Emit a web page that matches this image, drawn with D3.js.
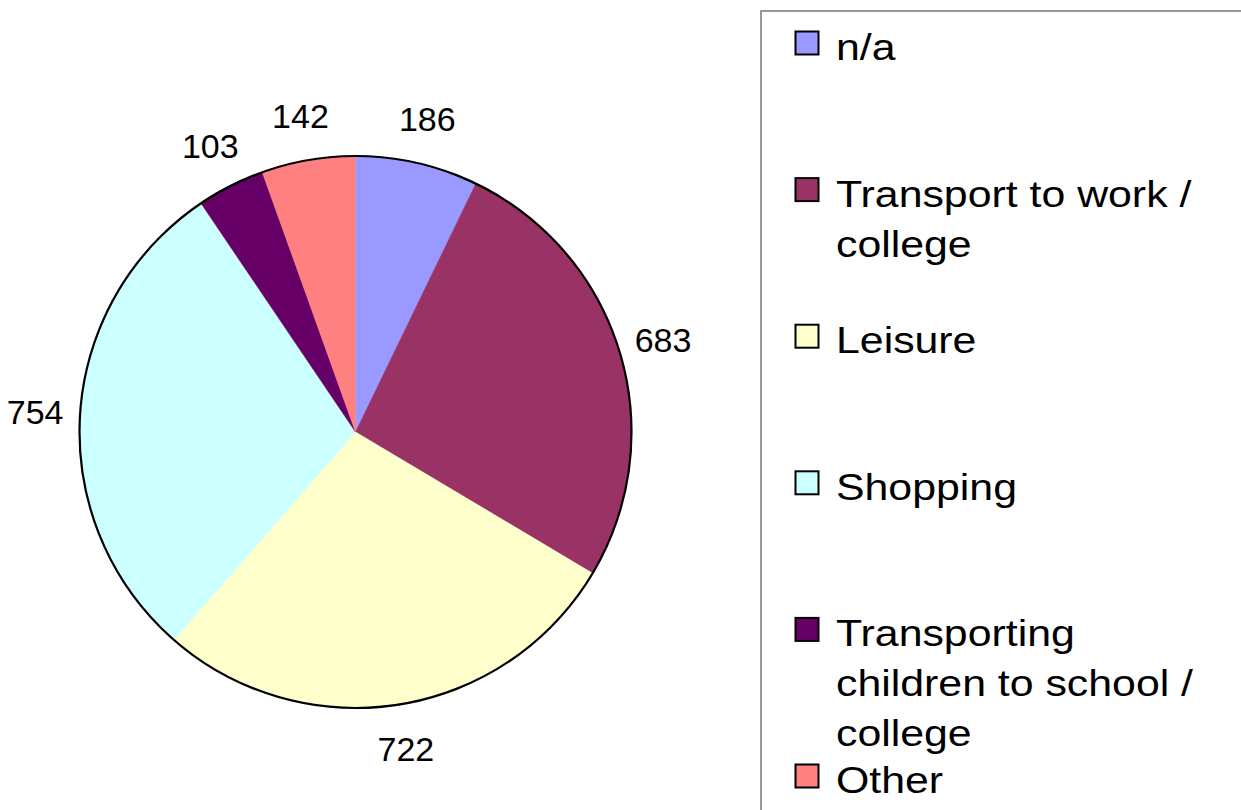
<!DOCTYPE html>
<html>
<head>
<meta charset="utf-8">
<script src="https://cdn.jsdelivr.net/npm/d3@7"></script>
<style>
  html, body { margin: 0; padding: 0; background: #fff; }
  svg { display: block; font-family: Arial, "Liberation Sans", sans-serif; }
</style>
</head>
<body>
<svg id="chart" width="1241" height="810"></svg>
<script>
// chart data
const categories = ['n/a', 'Transport to work / college', 'Leisure', 'Shopping',
  'Transporting children to school / college', 'Other'];
const values = [186, 683, 722, 754, 103, 142];
const colors = ['#9999FF', '#993366', '#FFFFCC', '#CCFFFF', '#660066', '#FF8080'];
// legend text as it wraps in the picture
const legendLines = [['n/a'], ['Transport to work /', 'college'], ['Leisure'], ['Shopping'],
  ['Transporting', 'children to school /', 'college'], ['Other']];

const svg = d3.select('#chart');
const cx = 355.5, cy = 432, radius = 276;

const color = d3.scaleOrdinal().domain(categories).range(colors);

const pie = d3.pie().sort(null).value((d, i) => values[i]);
const arcs = pie(categories);

const arc = d3.arc().innerRadius(0).outerRadius(radius);
const labelArc = d3.arc().innerRadius(321).outerRadius(321);

const g = svg.append('g').attr('transform', 'translate(' + cx + ',' + cy + ')');

g.selectAll('path.slice')
  .data(arcs)
  .enter().append('path')
  .attr('class', 'slice')
  .attr('d', arc)
  .attr('fill', d => color(d.data))
  .attr('stroke', d => color(d.data))
  .attr('stroke-width', 0.5);

// outer rim
g.append('circle')
  .attr('r', radius)
  .attr('fill', 'none')
  .attr('stroke', '#000')
  .attr('stroke-width', 2.2);

g.selectAll('text.value')
  .data(arcs)
  .enter().append('text')
  .attr('class', 'value')
  .attr('transform', d => 'translate(' + labelArc.centroid(d) + ')')
  .attr('text-anchor', 'middle')
  .attr('dy', '0.36em')
  .style('font-size', '34px')
  .attr('fill', '#000')
  .text(d => values[d.index]);

// legend
const legend = svg.append('g').attr('class', 'legend');
legend.append('rect')
  .attr('x', 761).attr('y', 11)
  .attr('width', 600).attr('height', 900)
  .attr('fill', '#fff')
  .attr('stroke', '#808080')
  .attr('stroke-width', 1.6);

const legendY = d3.scalePoint().domain(categories).range([60, 793]);

const item = legend.selectAll('g.item')
  .data(categories)
  .enter().append('g')
  .attr('class', 'item')
  .attr('transform', d => 'translate(0,' + legendY(d) + ')');

item.append('rect')
  .attr('x', 795.5).attr('y', -28.5)
  .attr('width', 23).attr('height', 23)
  .attr('fill', d => color(d))
  .attr('stroke', '#000')
  .attr('stroke-width', 2);

// legend text in the source is drawn a bit wider than plain Arial
item.append('text')
  .attr('transform', 'translate(836,0) scale(1.19,1)')
  .style('font-size', '36px')
  .attr('fill', '#000')
  .selectAll('tspan')
  .data((d, i) => legendLines[i])
  .enter().append('tspan')
  .attr('x', 0)
  .attr('dy', (d, i) => i === 0 ? 0 : 50)
  .text(d => d);
</script>
</body>
</html>
